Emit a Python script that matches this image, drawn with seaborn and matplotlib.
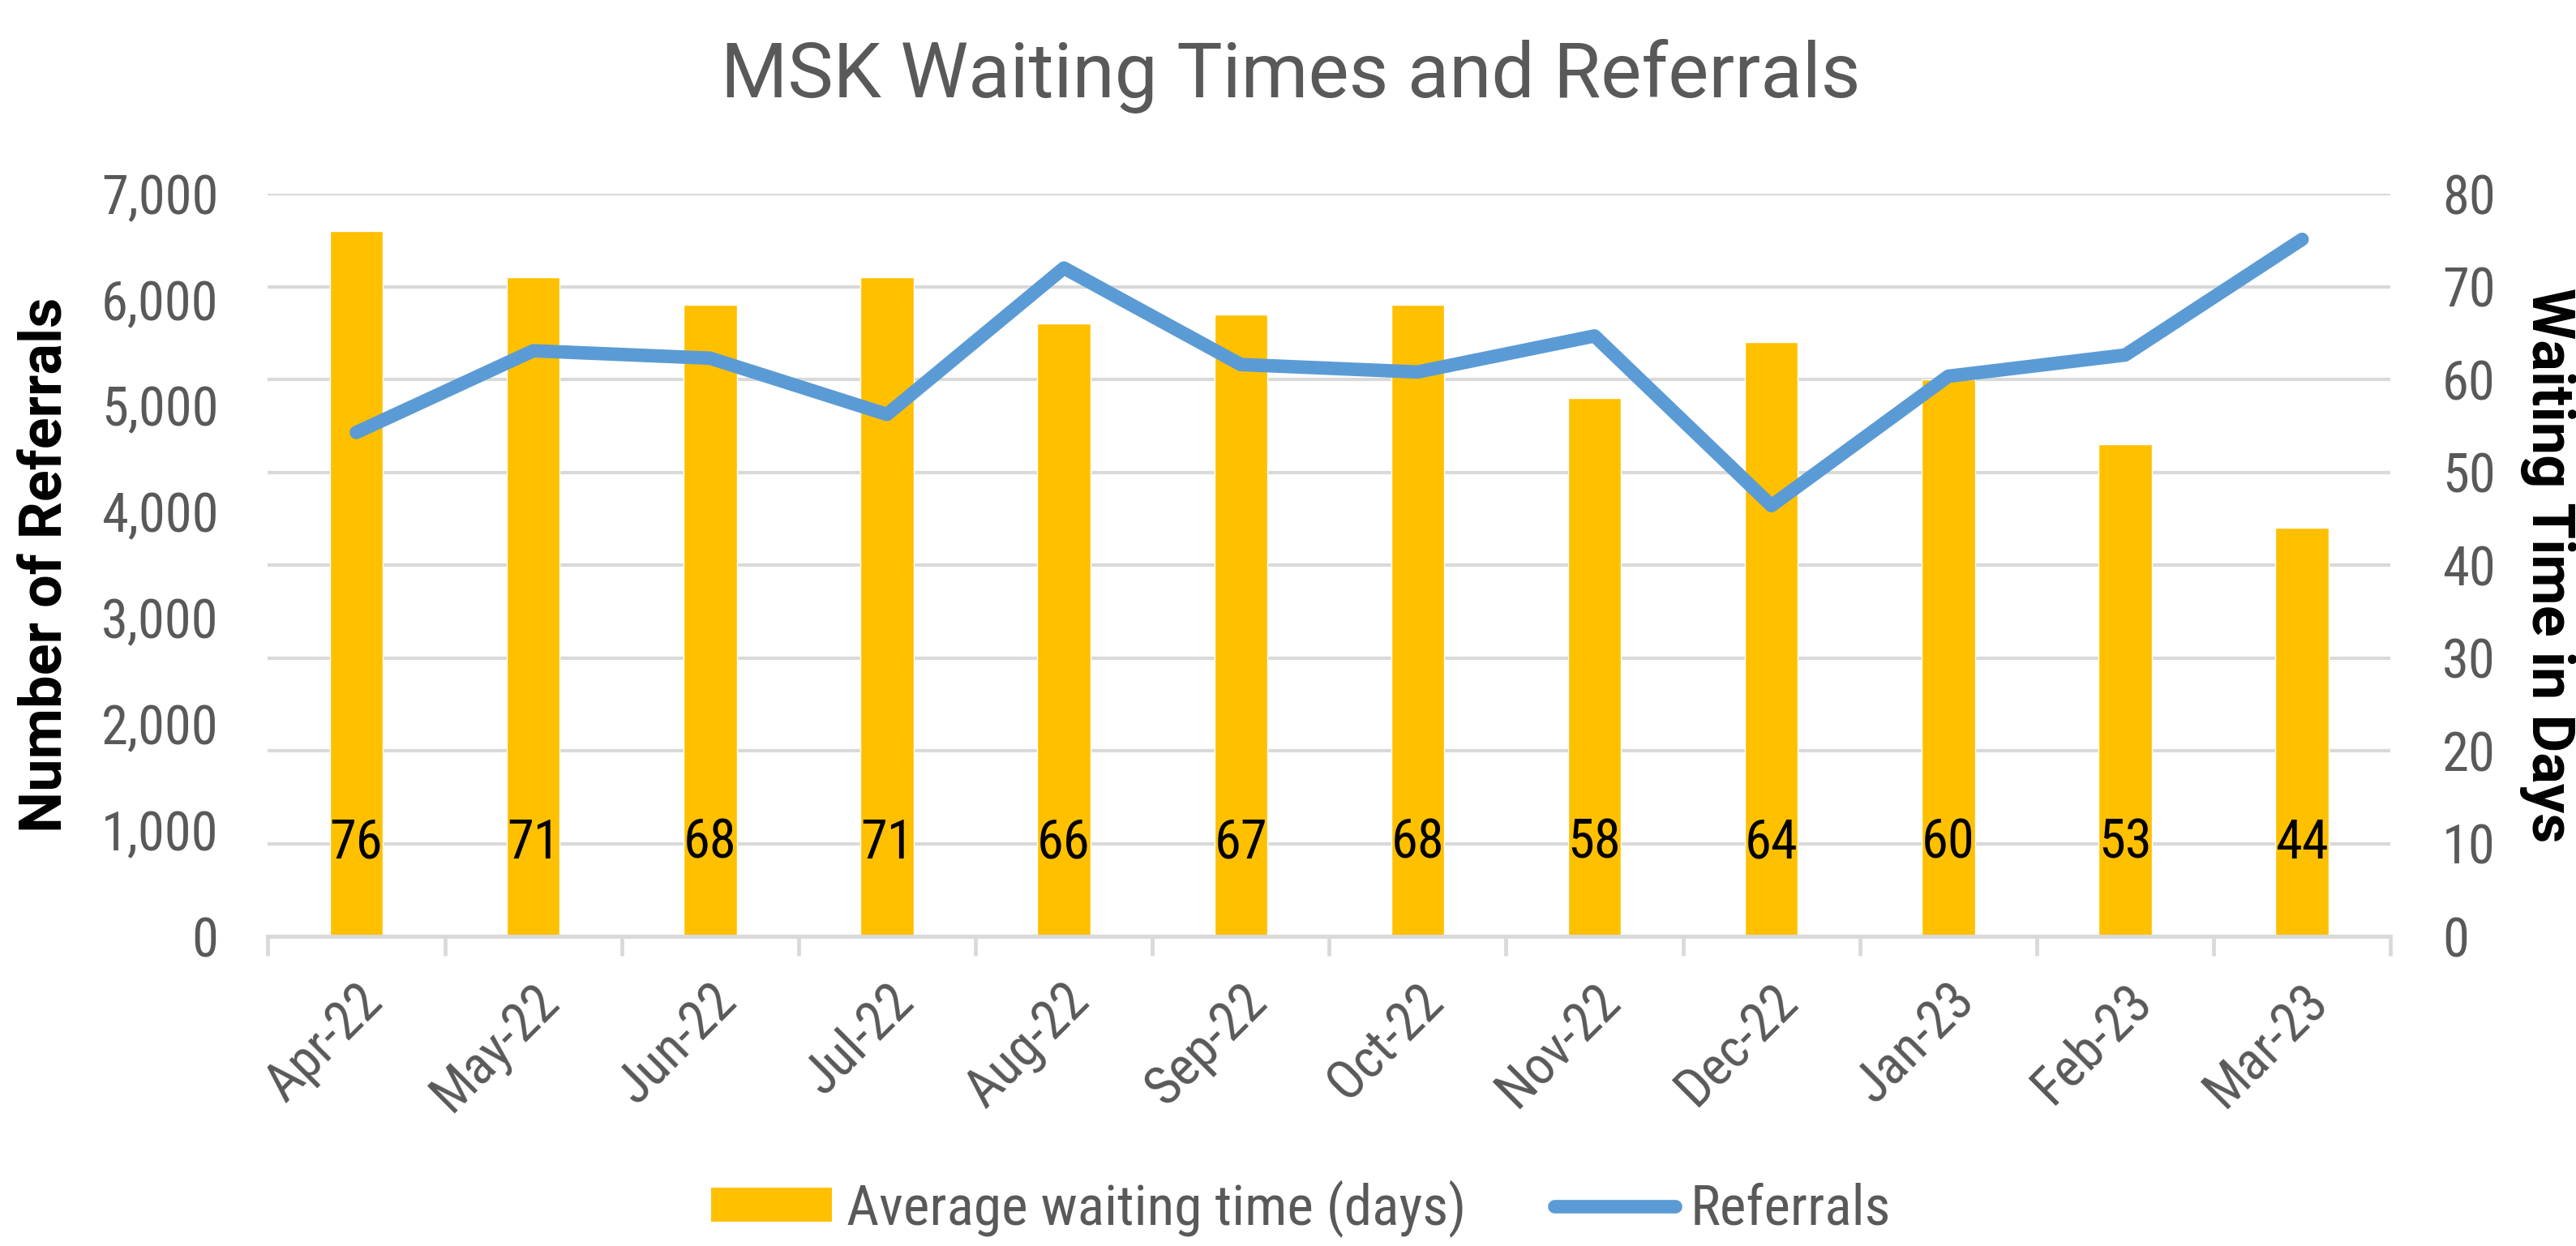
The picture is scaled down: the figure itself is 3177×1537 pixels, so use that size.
import numpy as np
import pandas as pd
import matplotlib
matplotlib.use("Agg")
import matplotlib.pyplot as plt
from matplotlib.patches import Patch
from matplotlib.lines import Line2D
from matplotlib.ticker import FuncFormatter, MultipleLocator
import seaborn as sns

# data
months = ["Apr-22", "May-22", "Jun-22", "Jul-22", "Aug-22", "Sep-22",
          "Oct-22", "Nov-22", "Dec-22", "Jan-23", "Feb-23", "Mar-23"]
wait_days = [76, 71, 68, 71, 66, 67, 68, 58, 64, 60, 53, 44]
referrals = [4750, 5520, 5450, 4920, 6300, 5390, 5320, 5660, 4060, 5280, 5480, 6570]

BAR_COLOR = "#FFC000"
LINE_COLOR = "#5B9BD5"
GRID_COLOR = "#D9D9D9"
TEXT_COLOR = "#595959"
FS = 48

sns.set_theme(style="white")
plt.rcParams["font.family"] = ["Roboto Condensed", "Liberation Sans Narrow",
                               "Liberation Sans", "DejaVu Sans"]

df = pd.DataFrame({"month": months, "wait": wait_days, "referrals": referrals,
                   "pos": np.arange(len(months))})

fig = plt.figure(figsize=(31.77, 15.37), dpi=100)
ax_bar = fig.add_axes([0.104, 0.2485, 0.824, 0.596])
ax_line = ax_bar.twinx()

# bars: waiting time on the right-hand axis
sns.barplot(data=df, x="month", y="wait", color=BAR_COLOR, width=0.3,
            saturation=1, ax=ax_bar, zorder=2)
ax_bar.yaxis.tick_right()
ax_bar.yaxis.set_label_position("right")
ax_bar.set_ylim(0, 80)
ax_bar.yaxis.set_major_locator(MultipleLocator(10))
ax_bar.set_axisbelow(True)
ax_bar.grid(axis="y", color=GRID_COLOR, linewidth=3)
ax_bar.set_xlim(-0.5, len(months) - 0.5)

# value labels sit near the bar base, as in the original
for i, v in enumerate(wait_days):
    ax_bar.text(i, 10, str(v), ha="center", va="center", fontsize=FS, color="black")

# line: referrals on the left-hand axis
sns.lineplot(data=df, x="pos", y="referrals", color=LINE_COLOR, linewidth=12,
             ax=ax_line, sort=False)
ax_line.yaxis.tick_left()
ax_line.yaxis.set_label_position("left")
ax_line.set_ylim(0, 7000)
ax_line.yaxis.set_major_locator(MultipleLocator(1000))
ax_line.yaxis.set_major_formatter(FuncFormatter(lambda v, p: f"{int(v):,}"))

for a in (ax_bar, ax_line):
    for s in a.spines.values():
        s.set_visible(False)
ax_bar.spines["bottom"].set_visible(True)
ax_bar.spines["bottom"].set_color(GRID_COLOR)
ax_bar.spines["bottom"].set_linewidth(3.6)

ax_bar.tick_params(axis="y", length=0, pad=46, labelsize=FS, labelcolor=TEXT_COLOR)
ax_line.tick_params(axis="y", length=0, pad=44, labelsize=FS, labelcolor=TEXT_COLOR)

# category ticks between the bars, Excel-style
ax_bar.set_xticks(np.arange(len(months)))
ax_bar.set_xticklabels(months, rotation=45, ha="right", rotation_mode="anchor")
ax_bar.set_xticks(np.arange(-0.5, len(months)), minor=True)
ax_bar.tick_params(axis="x", which="major", length=0, pad=34, labelsize=FS,
                   labelcolor=TEXT_COLOR)
ax_bar.tick_params(axis="x", which="minor", length=17, width=3.4, color=GRID_COLOR,
                   bottom=True)
ax_line.tick_params(axis="x", bottom=False, labelbottom=False)
ax_bar.set_xlabel("")
ax_line.set_xlabel("")

ax_line.set_ylabel("Number of Referrals", fontsize=52, fontweight="bold",
                   color="black", family="Roboto", va="center")
ax_line.yaxis.set_label_coords(-0.105, 0.5)
ax_bar.set_ylabel("Waiting Time in Days", fontsize=52, fontweight="bold",
                  color="black", family="Roboto", rotation=270, va="center")
ax_bar.yaxis.set_label_coords(1.074, 0.5)

fig.text(0.501, 1 - 120 / 1537, "MSK Waiting Times and Referrals", ha="center",
         va="baseline", fontsize=68, color=TEXT_COLOR, family="Roboto")

handles = [Patch(facecolor=BAR_COLOR, edgecolor="none"),
           Line2D([0], [0], color=LINE_COLOR, linewidth=12)]
fig.legend(handles, ["Average waiting time (days)", "Referrals"],
           loc="center", bbox_to_anchor=(0.505, 0.03), ncol=2, frameon=False,
           fontsize=50, labelcolor=TEXT_COLOR, handlelength=2.15, handleheight=0.57,
           columnspacing=1.56, handletextpad=0.26, borderpad=0)

fig.savefig("out.png", dpi=100)
